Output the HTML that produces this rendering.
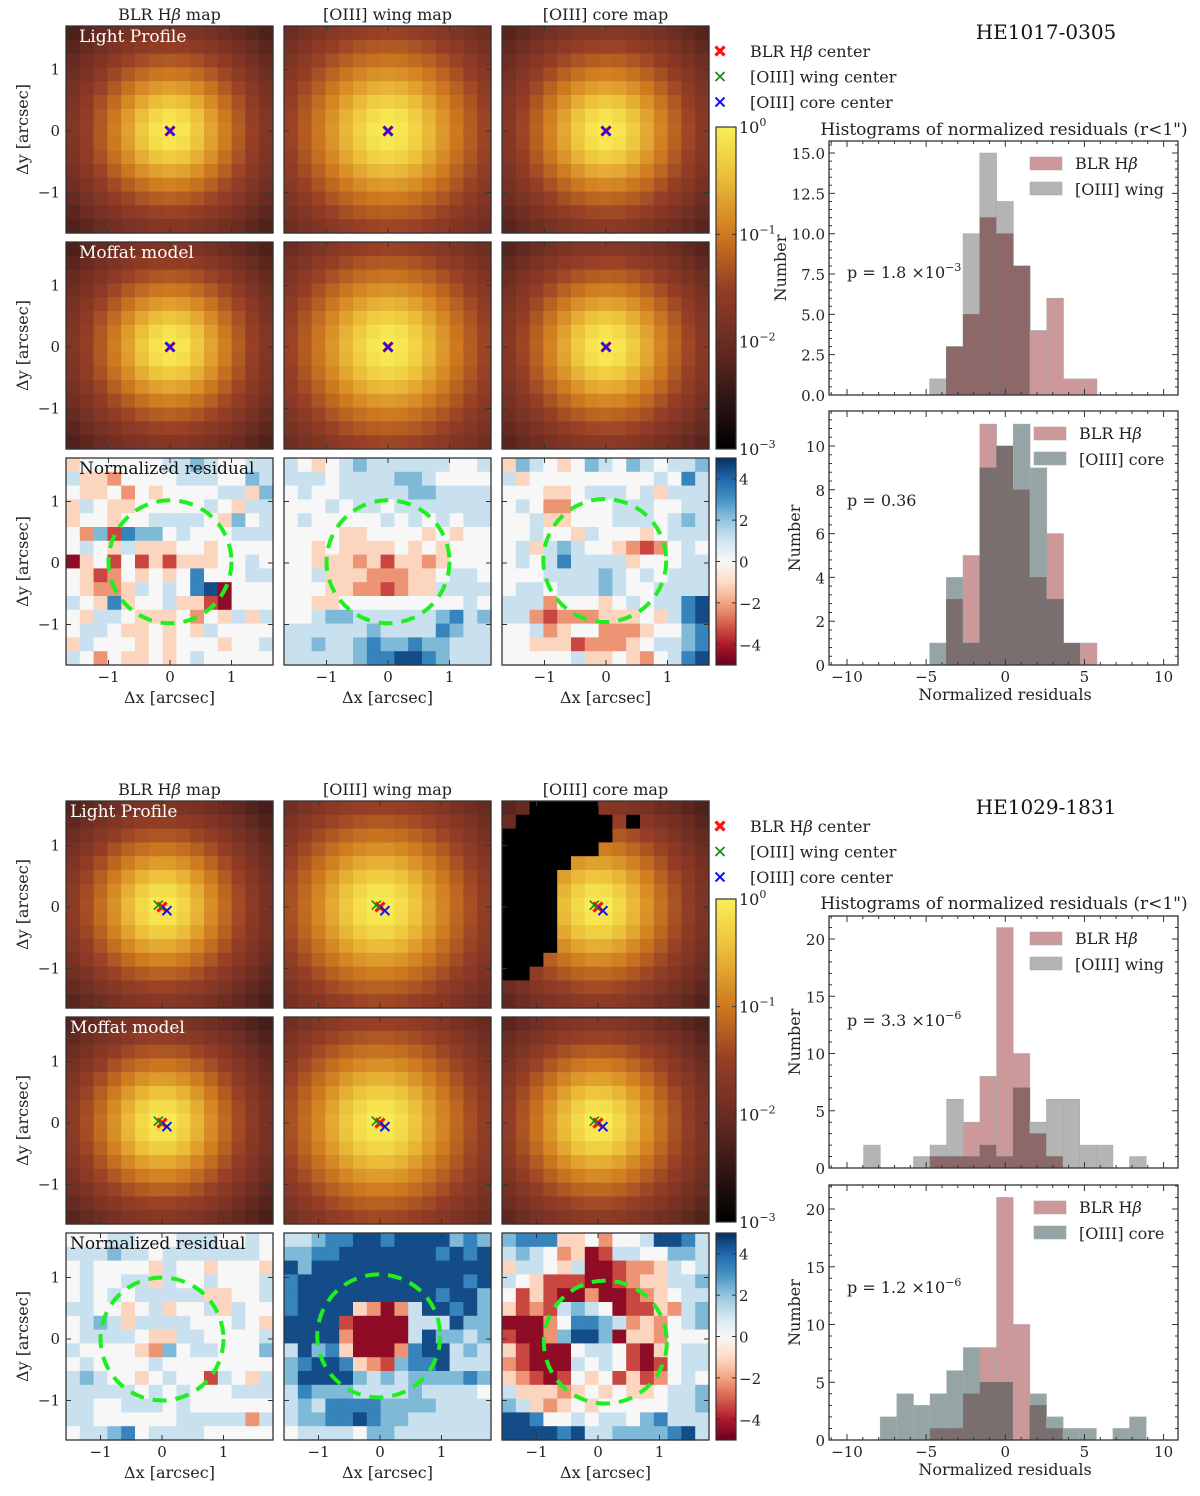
<!DOCTYPE html>
<html><head><meta charset="utf-8">
<style>
html,body{margin:0;padding:0;background:#fff;}
svg{display:block;font-family:"DejaVu Serif","Liberation Serif",serif;}
</style></head>
<body>
<svg id="fig" width="1200" height="1496" viewBox="0 0 1200 1496">
<defs>
<linearGradient id="gLight" x1="0" y1="1" x2="0" y2="0">
<stop offset="0" stop-color="#000000"/><stop offset="0.15" stop-color="#2e1414"/><stop offset="0.33" stop-color="#6a2c22"/><stop offset="0.5" stop-color="#953e26"/><stop offset="0.67" stop-color="#cf7a1f"/><stop offset="0.85" stop-color="#ecbf3a"/><stop offset="1" stop-color="#f9ef55"/>
</linearGradient>
<linearGradient id="gRes" x1="0" y1="1" x2="0" y2="0">
<stop offset="0" stop-color="#67001f"/><stop offset="0.1" stop-color="#b2182b"/><stop offset="0.2" stop-color="#d6604d"/><stop offset="0.3" stop-color="#f4a582"/><stop offset="0.4" stop-color="#fddbc7"/><stop offset="0.5" stop-color="#f7f7f7"/><stop offset="0.6" stop-color="#d1e5f0"/><stop offset="0.7" stop-color="#92c5de"/><stop offset="0.8" stop-color="#4393c3"/><stop offset="0.9" stop-color="#2166ac"/><stop offset="1" stop-color="#053061"/>
</linearGradient>
</defs>
</svg>
<script>
// ---------- data ----------
const histXTicks = [-10,-5,0,5,10];
const topBinStart = -4.78, topBinWidth = 1.057;
const h1BLR  = [0,3,5,11,10,8,4,6,1,1];
const h1Wing = [1,3,10,15,12,8,0,0,0,0];
const h2BLR  = [0,3,5,11,10,8,4,6,1,1];
const h2Core = [1,4,1,9,10,11,9,3,1,0];
const botBinStart = -8.95, botBinWidth = 1.05;
const h3BLR  = [0,0,0,0,1,1,4,8,21,10,3,1,0,0,0,0,0];
const h3Wing = [2,0,0,1,2,6,1,2,1,7,4,6,6,2,2,0,1];
const h4BLR  = [0,0,0,0,1,1,4,8,21,10,3,1,0,0,0,0,0];
const h4Core = [0,2,4,3,4,6,8,5,5,0,4,2,1,1,0,1,2];
const pTexts = [["1.8 \u00d710","\u22123"],["0.36",""],["3.3 \u00d710","\u22126"],["1.2 \u00d710","\u22126"]];
// residual maps: digit d -> value (d-4)*scale
const resTop = [
["344444455654455","533244445554465","433424344445536","354334444454355","344344555543645","426176645444555","454353334434444","034141313334454","431243434744455","432235454780444","543734453310444","435543334243535","455433434354444","354443434443445","542433434544444"],
["543456555555445","555455556654444","454455555665555","444545545555555","454444454545455","444433444434344","443433334343444","443332313323444","445333222334554","444332212335555","443344444444454","445665555556756","555555655557655","556556766766555","555556778876555"],
["365434654654556","534444444445475","444334555453555","454224445554455","445334445554565","445443544434555","453565443212454","454575555344455","444555565454555","455455565445555","555244434545578","552122233343578","445234422234467","443331222345567","444445334324578"]];
const resBot = [
["444554445554454","555655455555554","454444354434443","454455354454445","454545555533445","554434534453544","456535555444543","455554335544445","544443264554446","454444544444444","565443454415435","555554545444555","554455545444444","554444445555525","455674555544444"],
["556778878888676","667788888887878","868888888888888","788888888888878","788888888887886","788883202588786","888810000555866","888820000586656","586730002788565","678873216778555","688886565666676","576665555655554","565777766665555","566778766555555","455554665555555"],
["677733424458875","565423015544665","355435001223545","543111001233556","413100200123455","312156540113256","000247765232456","100268860332444","310004554103455","210005454101455","321014341312454","533323434334556","653234344444556","887445455467555","888878556666785"]];
const coreMaskBot = ["001111100000000","011111110100000","111111110000000","111111100000000","111110000000000","111100000000000","111100000000000","111100000000000","111100000000000","111100000000000","111100000000000","111000000000000","110000000000000","000000000000000","000000000000000"];
const moffatAlpha = [0.63,0.76,0.66];
const moffatBeta = [2,2,2];
const centersTopRed=[0,0], centersTopGreen=[0,0], centersTopBlue=[0,0];
const centersBotRed=[0,0], centersBotGreen=[-0.06,0.03], centersBotBlue=[0.08,-0.06];

// ---------- helpers ----------
const NS='http://www.w3.org/2000/svg';
const svg=document.getElementById('fig');
function el(tag, attrs, parent, name, inter){
  const e=document.createElementNS(NS,tag);
  for(const k in attrs) e.setAttribute(k,attrs[k]);
  
  
  (parent||svg).appendChild(e); return e;
}
function txt(x,y,s,size,anchor,name,extra){
  const a=Object.assign({x:x,y:y,'font-size':size,'text-anchor':anchor||'start',fill:'#222'},extra||{});
  const t=el('text',a,null,name,false); t.textContent=s; return t;
}
function hex2rgb(h){return [parseInt(h.slice(1,3),16),parseInt(h.slice(3,5),16),parseInt(h.slice(5,7),16)];}
function interp(stops,t){
  t=Math.max(0,Math.min(1,t));
  for(let i=1;i<stops.length;i++){ if(t<=stops[i][0]){ const a=stops[i-1],b=stops[i]; const f=(t-a[0])/(b[0]-a[0]||1); const ca=hex2rgb(a[1]),cb=hex2rgb(b[1]); return 'rgb('+ca.map((v,k)=>Math.round(v+(cb[k]-v)*f)).join(',')+')'; } }
  return stops[stops.length-1][1];
}
const lightStops=[[0,'#000000'],[0.15,'#2e1414'],[0.33,'#6a2c22'],[0.5,'#953e26'],[0.67,'#cf7a1f'],[0.85,'#ecbf3a'],[1,'#f9ef55']];
const resStops=[[0,'#67001f'],[0.1,'#b2182b'],[0.2,'#d6604d'],[0.3,'#f4a582'],[0.4,'#fddbc7'],[0.5,'#f7f7f7'],[0.6,'#d1e5f0'],[0.7,'#92c5de'],[0.8,'#4393c3'],[0.9,'#2166ac'],[1,'#053061']];
function crossPath(cx,cy,r){return `M${cx-r},${cy-r}L${cx+r},${cy+r}M${cx-r},${cy+r}L${cx+r},${cy-r}`;}

// ---------- map blocks ----------
const S=207, N=15, CS=S/N, PPA=61.5;
const colX=[66,284,502];
const colTitles=['BLR H','[OIII] wing map','[OIII] core map'];
function drawBlock(b){
  const rowY=[26+b.dy,242+b.dy,458+b.dy];
  colTitles.forEach((t,c)=>{
    const tt=txt(colX[c]+S/2,b.dy+20,c===0?'BLR H':t,16,'middle','column-title');
    if(c===0){ const ts=document.createElementNS(NS,'tspan'); ts.setAttribute('font-style','italic'); ts.textContent='\u03b2'; tt.appendChild(ts); const t2=document.createElementNS(NS,'tspan'); t2.textContent=' map'; tt.appendChild(t2);}
  });
  for(let r=0;r<3;r++){
    for(let c=0;c<3;c++){
      const L=colX[c], T=rowY[r];
      const zx=L+b.zx, zy=T+b.zy;
      const g=el('g',{},null,(r===2?'residual-map-':'light-map-')+c,false);
      for(let i=0;i<N;i++)for(let j=0;j<N;j++){
        let col;
        if(r<2){
          const ax=(L+(j+0.5)*CS-zx)/PPA, ay=(zy-(T+(i+0.5)*CS))/PPA;
          const v=Math.pow(1+(ax*ax+ay*ay)/(moffatAlpha[c]*moffatAlpha[c]),-moffatBeta[c]);
          col=interp(lightStops,(Math.log10(v)+3)/3);
          if(r===0 && c===2 && b.mask && b.mask[i][j]==='1') col='#000000';
        } else {
          const d=+b.res[c][i][j]; const v=(d-4)*1.12;
          col=interp(resStops,(v+5)/10);
        }
        const rc=el('rect',{x:(L+j*CS).toFixed(2),y:(T+i*CS).toFixed(2),width:(CS+0.6).toFixed(2),height:(CS+0.6).toFixed(2),fill:col},g,'map-cell',false);
      }
      [-1,0,1].forEach(v=>{
        const px=zx+v*PPA, py=zy-v*PPA;
        el('path',{d:`M${px},${T+S}v-5M${px},${T}v5M${L},${py}h5M${L+S},${py}h-5`,stroke:'#333','stroke-width':1},null,'tick',false);
      });
      if(r===2){
        el('circle',{cx:zx+b.circ[c][0]*PPA,cy:zy-b.circ[c][1]*PPA,r:PPA,fill:'none',stroke:'#1fef1f','stroke-width':4,'stroke-dasharray':'14 9'},null,'r1-circle',false);
        [-1,0,1].forEach(v=>txt(zx+v*PPA,T+S+17,v<0?'\u22121':String(v),15,'middle','x-tick-label'));
        txt(L+S/2,T+S+38,'\u0394x [arcsec]',16,'middle','x-axis-title');
      } else {
        [[b.red,'#ff1111',3.2,'red-center'],[b.green,'#118811',1.6,'green-center'],[b.blue,'#1111ff',2,'blue-center']].forEach(m=>{
          el('path',{d:crossPath(zx+m[0][0]*PPA,zy-m[0][1]*PPA,4.5),stroke:m[1],'stroke-width':m[2],fill:'none'},null,m[3],false);
        });
      }
      el('rect',{x:L,y:T,width:S,height:S,fill:'none',stroke:'#333','stroke-width':1.3},null,'map-frame',false);
      if(c===0){
        [-1,0,1].forEach(v=>txt(L-6,zy-v*PPA+5,v<0?'\u22121':String(v),15,'end','y-tick-label'));
        txt(0,0,'\u0394y [arcsec]',16,'middle','y-axis-title',{transform:`translate(28,${T+S/2}) rotate(-90)`});
      }
    }
  }
  txt(colX[0]+b.lblx,rowY[0]+16,'Light Profile',17,'start','panel-label',{fill:'#fff'});
  txt(colX[0]+b.lblx,rowY[1]+16,'Moffat model',17,'start','panel-label',{fill:'#fff'});
  txt(colX[0]+b.lblx,rowY[2]+16,'Normalized residual',17,'start','panel-label',{fill:'#111'});
  el('rect',{x:716,y:b.cb0,width:20,height:b.cb1-b.cb0,fill:'url(#gLight)',stroke:'#333','stroke-width':1.2},null,'light-colorbar',false);
  ['0','\u22121','\u22122','\u22123'].forEach((e,k)=>{
    const y=b.cb0+k*(b.cb1-b.cb0)/3;
    el('path',{d:`M716,${y}h4M736,${y}h-4`,stroke:'#333'},null,'tick',false);
    const t=txt(739,y+6,'10',16,'start','colorbar-tick-label');
    const ts=document.createElementNS(NS,'tspan'); ts.setAttribute('dy','-7'); ts.setAttribute('font-size','11'); ts.textContent=e; t.appendChild(ts);
  });
  const R0=rowY[2];
  el('rect',{x:716,y:R0,width:20,height:S,fill:'url(#gRes)',stroke:'#333','stroke-width':1.2},null,'residual-colorbar',false);
  [4,2,0,-2,-4].forEach(v=>{
    const y=R0+S/2-v*S/10;
    el('path',{d:`M716,${y}h4M736,${y}h-4`,stroke:'#333'},null,'tick',false);
    txt(739,y+6,v<0?'\u2212'+(-v):String(v),15,'start','colorbar-tick-label');
  });
  [['#ff1111',3.2,'BLR H'],['#118811',1.6,'[OIII] wing center'],['#1111ff',2,'[OIII] core center']].forEach((m,k)=>{
    const y=b.dy+b.legY+k*25.5;
    el('path',{d:crossPath(720,y,4.5),stroke:m[0],'stroke-width':m[1],fill:'none'},null,'legend-marker',false);
    const t=txt(750,y+6,m[2],16,'start','legend-entry');
    if(k===0){const ts=document.createElementNS(NS,'tspan');ts.setAttribute('font-style','italic');ts.textContent='\u03b2';t.appendChild(ts);const t2=document.createElementNS(NS,'tspan');t2.textContent=' center';t.appendChild(t2);}
  });
  txt(1046,b.dy+b.titleY,b.title,20,'middle','object-title',{fill:'#111'});
  txt(1004,b.histTitleY,'Histograms of normalized residuals (r<1")',17,'middle','histogram-title');
}

// ---------- histograms ----------
const HX0=829, HX1=1178;
function hx(v){return 847+(v+10)*15.83;}
function drawHist(h){
  const sy=v=>h.y0-v*h.ppu;
  const g=el('g',{},null,h.name,false);
  for(let i=0;i<h.a.length;i++){
    const x0=hx(h.start+i*h.w), x1=hx(h.start+(i+1)*h.w);
    const a=h.a[i], b=h.b[i], lo=Math.min(a,b), hi=Math.max(a,b);
    if(hi>lo) el('rect',{x:x0,y:sy(hi),width:x1-x0,height:sy(lo)-sy(hi),fill:a>b?'#cc9899':h.colB,stroke:'#aaa','stroke-width':0.6},g,'hist-bar',false);
    if(lo>0) el('rect',{x:x0,y:sy(lo),width:x1-x0,height:sy(0)-sy(lo),fill:h.colO,stroke:'#777','stroke-width':0.6},g,'hist-bar-overlap',false);
  }
  const top=h.y0-h.H;
  el('rect',{x:HX0,y:top,width:HX1-HX0,height:h.H,fill:'none',stroke:'#333','stroke-width':1.3},null,'hist-frame',false);
  let d='';
  for(let v=-11;v<=11;v++){ const x=hx(v); if(x<HX0||x>HX1)continue; const L=(v%5===0)?6:3; d+=`M${x},${h.y0}v-${L}M${x},${top}v${L}`; }
  for(let v=0;v<=h.ymax+1e-6;v+=h.minor){ const y=sy(v); if(y<top)continue; const maj=Math.abs(v/h.major-Math.round(v/h.major))<1e-6; const L=maj?6:3; d+=`M${HX0},${y}h${L}M${HX1},${y}h-${L}`; }
  el('path',{d:d,stroke:'#333','stroke-width':1,fill:'none'},null,'hist-ticks',false);
  for(let v=0;v<=h.ymax+1e-6;v+=h.major){ txt(825,sy(v)+6,h.major===2.5?v.toFixed(1):String(v),15,'end','y-tick-label'); }
  if(h.xlab){ histXTicks.forEach(v=>txt(hx(v),h.y0+17,v<0?'\u2212'+(-v):String(v),15,'middle','x-tick-label')); txt(1005,h.y0+35,'Normalized residuals',16,'middle','x-axis-title'); }
  txt(0,0,'Number',16,'middle','y-axis-title',{transform:`translate(${h.ylx},${h.y0-h.H/2}) rotate(-90)`});
  const lx=h.legX;
  el('rect',{x:lx,y:top+16,width:32,height:13,fill:'#cc9899',stroke:'#aaa','stroke-width':0.6},null,'legend-patch-blr',false);
  el('rect',{x:lx,y:top+41,width:32,height:13,fill:h.colB,stroke:'#aaa','stroke-width':0.6},null,'legend-patch-oiii',false);
  const t=txt(lx+45,top+28,'BLR H',16,'start','legend-entry');
  const ts=document.createElementNS(NS,'tspan');ts.setAttribute('font-style','italic');ts.textContent='\u03b2';t.appendChild(ts);
  txt(lx+45,top+54,h.lab,16,'start','legend-entry');
  const p=txt(847,h.pY,'p = '+h.p[0],16,'start','p-value');
  if(h.p[1]){const s=document.createElementNS(NS,'tspan');s.setAttribute('dy','-7');s.setAttribute('font-size','11');s.textContent=h.p[1];p.appendChild(s);}
}

drawBlock({dy:0,zx:104,zy:105,lblx:13,legY:51,titleY:39,histTitleY:135,cb0:127,cb1:449,res:resTop,mask:null,
  red:centersTopRed,green:centersTopGreen,blue:centersTopBlue,circ:[[0,0.02],[0,0.02],[-0.02,0.04]],title:'HE1017-0305'});
drawBlock({dy:775,zx:96,zy:106,lblx:4,legY:51,titleY:39,histTitleY:909,cb0:899,cb1:1222,res:resBot,mask:coreMaskBot,
  red:centersBotRed,green:centersBotGreen,blue:centersBotBlue,circ:[[0,0.0],[-0.02,0.05],[0.12,-0.05]],title:'HE1029-1831'});

drawHist({name:'histogram-blr-vs-wing-he1017',a:h1BLR,b:h1Wing,start:topBinStart,w:topBinWidth,y0:395,ppu:16.13,H:254,ymax:15.7,major:2.5,minor:0.5,colB:'#b4b4b4',colO:'#8c6868',lab:'[OIII] wing',legX:1030,pY:278,p:pTexts[0],xlab:false,ylx:786});
drawHist({name:'histogram-blr-vs-core-he1017',a:h2BLR,b:h2Core,start:topBinStart,w:topBinWidth,y0:665,ppu:21.9,H:254,ymax:11.5,major:2,minor:0.4,colB:'#95a5a5',colO:'#7b6e6e',lab:'[OIII] core',legX:1034,pY:506,p:pTexts[1],xlab:true,ylx:800});
drawHist({name:'histogram-blr-vs-wing-he1029',a:h3BLR,b:h3Wing,start:botBinStart,w:botBinWidth,y0:1168,ppu:11.45,H:252,ymax:22,major:5,minor:1,colB:'#b4b4b4',colO:'#8c6868',lab:'[OIII] wing',legX:1030,pY:1026,p:pTexts[2],xlab:false,ylx:800});
drawHist({name:'histogram-blr-vs-core-he1029',a:h4BLR,b:h4Core,start:botBinStart,w:botBinWidth,y0:1440,ppu:11.55,H:255,ymax:22,major:5,minor:1,colB:'#95a5a5',colO:'#7b6e6e',lab:'[OIII] core',legX:1034,pY:1293,p:pTexts[3],xlab:true,ylx:800});
</script>
</body></html>
